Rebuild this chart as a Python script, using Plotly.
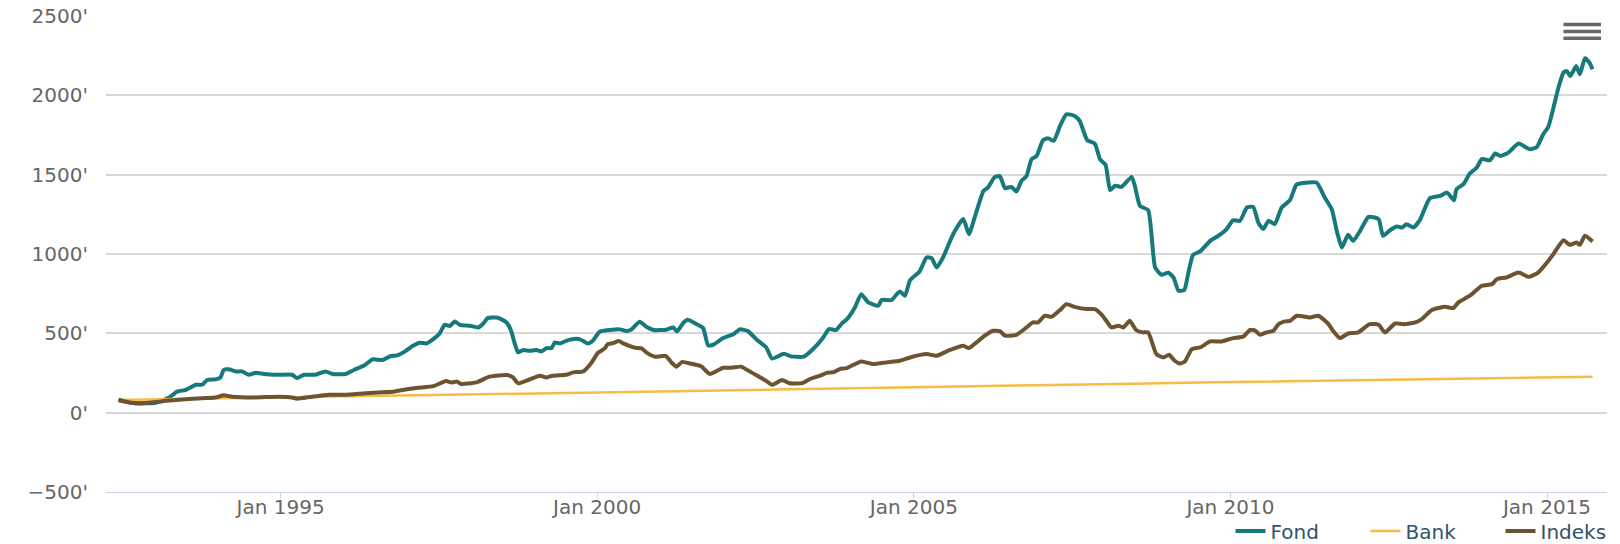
import pandas as pd
import plotly.graph_objects as go

# ---- data (decimal years, values) ----
fond_years = [1992.44,1992.71,1993.03,1993.24,1993.37,1993.50,1993.66,1993.76,1993.84,1993.97,1994.05,1994.10,1994.18,1994.29,1994.39,1994.50,1994.61,1994.74,1994.97,1995.18,1995.26,1995.37,1995.55,1995.71,1995.82,1996.03,1996.16,1996.34,1996.45,1996.61,1996.74,1996.84,1996.97,1997.09,1997.20,1997.30,1997.41,1997.51,1997.59,1997.67,1997.75,1997.83,1997.99,1998.12,1998.20,1998.27,1998.41,1998.49,1998.57,1998.64,1998.70,1998.75,1998.83,1998.93,1999.04,1999.12,1999.20,1999.28,1999.33,1999.41,1999.51,1999.67,1999.75,1999.85,1999.93,2000.04,2000.20,2000.36,2000.46,2000.54,2000.67,2000.78,2000.89,2001.09,2001.20,2001.26,2001.36,2001.43,2001.57,2001.67,2001.75,2001.83,2001.99,2002.15,2002.25,2002.38,2002.52,2002.67,2002.76,2002.95,2003.06,2003.26,2003.41,2003.57,2003.66,2003.77,2003.86,2003.96,2004.07,2004.17,2004.28,2004.44,2004.49,2004.65,2004.73,2004.78,2004.86,2004.94,2005.09,2005.20,2005.28,2005.36,2005.46,2005.62,2005.78,2005.87,2005.96,2006.10,2006.17,2006.28,2006.36,2006.44,2006.54,2006.62,2006.70,2006.78,2006.86,2006.94,2007.04,2007.12,2007.21,2007.31,2007.41,2007.54,2007.62,2007.74,2007.86,2007.94,2008.03,2008.10,2008.18,2008.28,2008.44,2008.49,2008.57,2008.70,2008.81,2008.91,2009.02,2009.10,2009.18,2009.27,2009.33,2009.41,2009.52,2009.68,2009.81,2009.94,2010.04,2010.15,2010.26,2010.36,2010.44,2010.52,2010.60,2010.70,2010.81,2010.94,2011.04,2011.10,2011.36,2011.49,2011.60,2011.68,2011.76,2011.86,2011.94,2012.05,2012.18,2012.34,2012.41,2012.52,2012.63,2012.71,2012.78,2012.89,2012.99,2013.15,2013.31,2013.42,2013.53,2013.57,2013.68,2013.78,2013.89,2013.97,2014.10,2014.18,2014.26,2014.39,2014.55,2014.73,2014.84,2014.94,2015.02,2015.10,2015.18,2015.26,2015.31,2015.37,2015.46,2015.52,2015.60,2015.67,2015.72]
fond_values = [80,59,63,96,134,143,176,176,206,210,222,269,273,260,260,239,252,244,239,239,218,239,239,260,244,244,269,302,336,332,357,361,388,422,441,436,464,499,554,546,575,554,548,537,562,596,600,588,567,516,433,380,395,390,395,386,407,407,443,436,453,466,458,436,453,510,521,525,514,524,573,540,521,523,537,512,567,586,558,535,425,428,470,494,525,514,460,411,341,371,355,353,401,474,527,521,560,596,663,747,695,674,710,710,747,764,737,835,890,978,974,915,978,1125,1220,1125,1230,1398,1419,1486,1490,1415,1423,1394,1461,1492,1598,1618,1717,1730,1713,1807,1881,1870,1839,1717,1696,1598,1562,1402,1430,1423,1486,1430,1304,1276,915,869,882,852,768,773,873,995,1016,1083,1115,1157,1213,1209,1293,1297,1198,1157,1209,1188,1293,1339,1436,1444,1450,1356,1283,1146,1041,1121,1083,1146,1234,1220,1115,1150,1173,1167,1188,1167,1213,1352,1366,1387,1339,1409,1440,1507,1545,1598,1591,1633,1618,1639,1696,1660,1675,1755,1801,1919,2048,2143,2154,2122,2185,2133,2234,2206,2164]

indeks_years = [1992.44,1992.71,1992.92,1993.24,1993.55,1993.82,1993.97,1994.10,1994.24,1994.55,1994.97,1995.18,1995.26,1995.50,1995.77,1996.03,1996.34,1996.61,1996.80,1996.88,1997.14,1997.41,1997.61,1997.70,1997.78,1997.85,1998.09,1998.30,1998.58,1998.67,1998.75,1998.93,1999.09,1999.20,1999.30,1999.51,1999.62,1999.78,1999.91,2000.01,2000.12,2000.17,2000.25,2000.34,2000.42,2000.59,2000.70,2000.78,2000.92,2001.08,2001.17,2001.25,2001.34,2001.49,2001.64,2001.78,2001.99,2002.12,2002.27,2002.39,2002.55,2002.68,2002.76,2002.92,2003.04,2003.25,2003.36,2003.52,2003.64,2003.74,2003.83,2003.94,2004.17,2004.36,2004.57,2004.78,2004.94,2005.20,2005.36,2005.57,2005.78,2005.87,2005.99,2006.12,2006.25,2006.36,2006.44,2006.62,2006.78,2006.88,2006.96,2007.07,2007.18,2007.31,2007.41,2007.54,2007.73,2007.86,2007.97,2008.04,2008.12,2008.23,2008.31,2008.41,2008.51,2008.62,2008.70,2008.83,2008.94,2009.03,2009.12,2009.20,2009.28,2009.39,2009.52,2009.68,2009.86,2010.04,2010.20,2010.31,2010.39,2010.47,2010.57,2010.68,2010.76,2010.86,2010.94,2011.05,2011.26,2011.39,2011.55,2011.62,2011.73,2011.86,2012.02,2012.20,2012.34,2012.44,2012.60,2012.73,2012.92,2013.02,2013.18,2013.39,2013.52,2013.60,2013.78,2013.97,2014.13,2014.21,2014.36,2014.55,2014.71,2014.86,2015.00,2015.10,2015.26,2015.36,2015.47,2015.52,2015.60,2015.72]
indeks_values = [80,59,63,76,86,92,96,109,101,96,101,96,88,101,113,113,122,128,134,140,156,167,200,190,197,181,191,227,237,222,185,209,233,222,233,239,254,260,315,376,405,433,438,451,435,410,405,378,352,358,317,290,320,308,292,244,283,283,290,264,228,197,176,206,185,188,212,233,252,256,275,281,323,306,317,327,348,369,359,395,422,407,443,485,516,514,485,491,537,569,569,611,605,647,684,667,653,653,617,579,537,548,537,579,521,506,506,369,348,365,327,310,323,401,411,449,449,470,479,521,517,491,506,516,558,575,579,611,600,611,558,516,470,499,506,558,554,506,562,558,569,590,647,667,659,695,737,800,810,842,852,883,856,883,946,999,1087,1058,1072,1058,1115,1079]

bank_years = [1992.44,1993.5,1994.5,1995.5,1996.5,1997.5,1998.5,1999.5,2000.5,2001.5,2002.5,2003.5,2004.5,2005.5,2006.5,2007.5,2008.5,2009.5,2010.5,2011.5,2012.5,2013.5,2014.5,2015.72]
bank_values = [80,86,93,99,106,112,118,124,131,137,143,150,156,162,169,176,183,190,196,202,208,214,219,226]

y_ticks = [-500, 0, 500, 1000, 1500, 2000, 2500]
y_ticktext = ["\u2212500'", "0'", "500'", "1000'", "1500'", "2000'", "2500'"]


def yr2date(y):
    yi = int(y)
    start = pd.Timestamp(yi, 1, 1)
    end = pd.Timestamp(yi + 1, 1, 1)
    return start + (end - start) * (y - yi)


FONT = "DejaVu Sans"
TICK_COLOR = "#666666"

fig = go.Figure()
fig.add_trace(go.Scatter(x=[yr2date(v) for v in fond_years], y=fond_values, name="Fond",
                         mode="lines", line=dict(color="#16797c", width=4, shape="spline", smoothing=0.5)))
fig.add_trace(go.Scatter(x=[yr2date(v) for v in bank_years], y=bank_values, name="Bank",
                         mode="lines", line=dict(color="#f9bb45", width=2.5)))
fig.add_trace(go.Scatter(x=[yr2date(v) for v in indeks_years], y=indeks_values, name="Indeks",
                         mode="lines", line=dict(color="#6c5430", width=4, shape="spline", smoothing=0.5)))

fig.update_layout(
    width=1620, height=544,
    margin=dict(l=106, r=13, t=16, b=52, autoexpand=False),
    paper_bgcolor="white", plot_bgcolor="white",
    font=dict(family=FONT, size=20, color=TICK_COLOR),
    showlegend=True,
    legend=dict(orientation="h", x=1.019, xanchor="right", y=-0.082, yanchor="middle",
                font=dict(family=FONT, size=20, color="#2f5468"),
                entrywidth=90, entrywidthmode="pixels", bgcolor="rgba(0,0,0,0)",
                borderwidth=0),
    xaxis=dict(type="date", range=[yr2date(1992.243), yr2date(2015.948)],
               tick0="1995-01-01", dtick="M60", tickformat="%b %Y",
               showgrid=False, showline=True, linecolor="#ccd6eb", linewidth=1,
               ticks="outside", ticklen=6, tickcolor="#ccd6eb", tickwidth=1,
               ticklabelstandoff=-9, automargin=False,
               tickfont=dict(family=FONT, size=20, color=TICK_COLOR), zeroline=False),
    yaxis=dict(range=[-500, 2500], tickvals=y_ticks, ticktext=y_ticktext,
               showgrid=True, gridcolor="#d9d9d9", gridwidth=1.5, zeroline=False,
               showline=False, ticks="", ticklabelstandoff=17, automargin=False,
               tickfont=dict(family=FONT, size=20, color=TICK_COLOR)),
    shapes=[
        dict(type="line", xref="paper", yref="paper", x0=0.971, x1=0.996, y0=0.982, y1=0.982,
             line=dict(color="#666666", width=3.5)),
        dict(type="line", xref="paper", yref="paper", x0=0.971, x1=0.996, y0=0.9675, y1=0.9675,
             line=dict(color="#666666", width=3.5)),
        dict(type="line", xref="paper", yref="paper", x0=0.971, x1=0.996, y0=0.953, y1=0.953,
             line=dict(color="#666666", width=3.5)),
    ],
)

fig.write_html("out.html", config={"displayModeBar": False})
